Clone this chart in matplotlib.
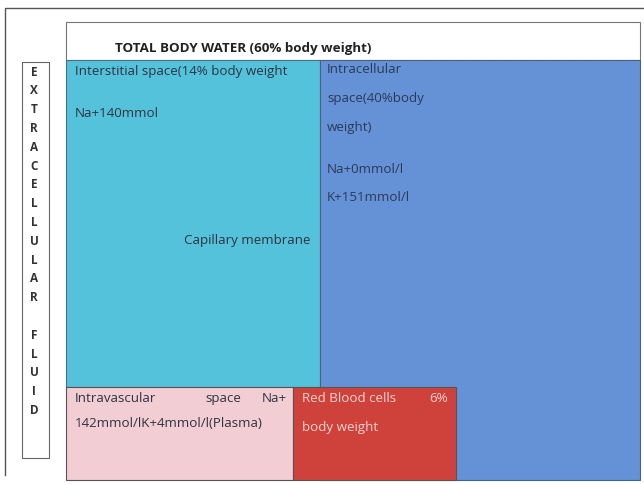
import matplotlib
matplotlib.use("Agg")
import matplotlib.pyplot as plt
from matplotlib.patches import Rectangle

# ---- data ----
title = "TOTAL BODY WATER (60% body weight)"
side_label = "EXTRACELLULAR FLUID"
compartments = ["Interstitial", "Intracellular", "Intravascular", "Red Blood cells"]
percent_body_weight = [14, 40, None, 6]
interstitial_lines = ["Interstitial space(14% body weight", "Na+140mmol"]
intracellular_lines = ["Intracellular", "space(40%body", "weight)", "Na+0mmol/l", "K+151mmol/l"]
intravascular_words = ["Intravascular", "space", "Na+"]
intravascular_line2 = "142mmol/lK+4mmol/l(Plasma)"
rbc_words = ["Red Blood cells", "6%"]
rbc_line2 = "body weight"
membrane_label = "Capillary membrane"

plt.rcParams['font.family'] = ['Open Sans', 'DejaVu Sans']

fig = plt.figure(figsize=(6.44, 4.84), dpi=100)
ax = fig.add_axes([0, 0, 1, 1])
ax.set_xlim(0, 644)
ax.set_ylim(484, 0)
ax.axis('off')

# page frame
ax.plot([5, 5, 644], [475, 8, 8], color='#555555', lw=1.0)

# white title box
ax.add_patch(Rectangle((66, 22), 574, 38, facecolor='white', edgecolor='#777777', lw=0.8))
ax.text(115, 52, title, fontsize=9.6, fontweight='bold', color='#222222', va='baseline', ha='left')

# compartments
ax.add_patch(Rectangle((66, 60), 254, 327, facecolor='#55c2db', edgecolor='#4a6f86', lw=0.8))
ax.add_patch(Rectangle((320, 60), 320, 420, facecolor='#6592d7', edgecolor='#4a6080', lw=0.8))
ax.add_patch(Rectangle((66, 387), 227, 93, facecolor='#f2cdd4', edgecolor='#555555', lw=0.8))
ax.add_patch(Rectangle((293, 387), 163, 93, facecolor='#cf423c', edgecolor='#555555', lw=0.8))

fs = 9.6
txt = '#2e3440'
kw = dict(fontsize=fs, va='baseline')
# interstitial
ax.text(75, 75, interstitial_lines[0], color=txt, **kw)
ax.text(75, 117, interstitial_lines[1], color=txt, **kw)
ax.text(184, 244, membrane_label, color=txt, **kw)

# intracellular
for s, y in zip(intracellular_lines, [73, 102, 131, 173, 201]):
    ax.text(327, y, s, color='#2b3a55', **kw)

# intravascular
ax.text(75, 402, intravascular_words[0], color=txt, **kw)
ax.text(205, 402, intravascular_words[1], color=txt, **kw)
ax.text(287, 402, intravascular_words[2], color=txt, ha='right', **kw)
ax.text(75, 427, intravascular_line2, color=txt, **kw)

# RBC
ax.text(302, 402, rbc_words[0], color='#f6d3d0', **kw)
ax.text(448, 402, rbc_words[1], color='#f6d3d0', ha='right', **kw)
ax.text(302, 431, rbc_line2, color='#f6d3d0', **kw)

# extracellular fluid vertical box
ax.add_patch(Rectangle((22, 62), 27, 396, facecolor='white', edgecolor='#666666', lw=0.8))
letters = list(side_label)
y0, dy = 72, 18.8
for i, ch in enumerate(letters):
    if ch != ' ':
        ax.text(34, y0 + i * dy, ch, fontsize=8.5, fontweight='bold', color='#333333', ha='center', va='center')

fig.savefig('out.png', dpi=100)
